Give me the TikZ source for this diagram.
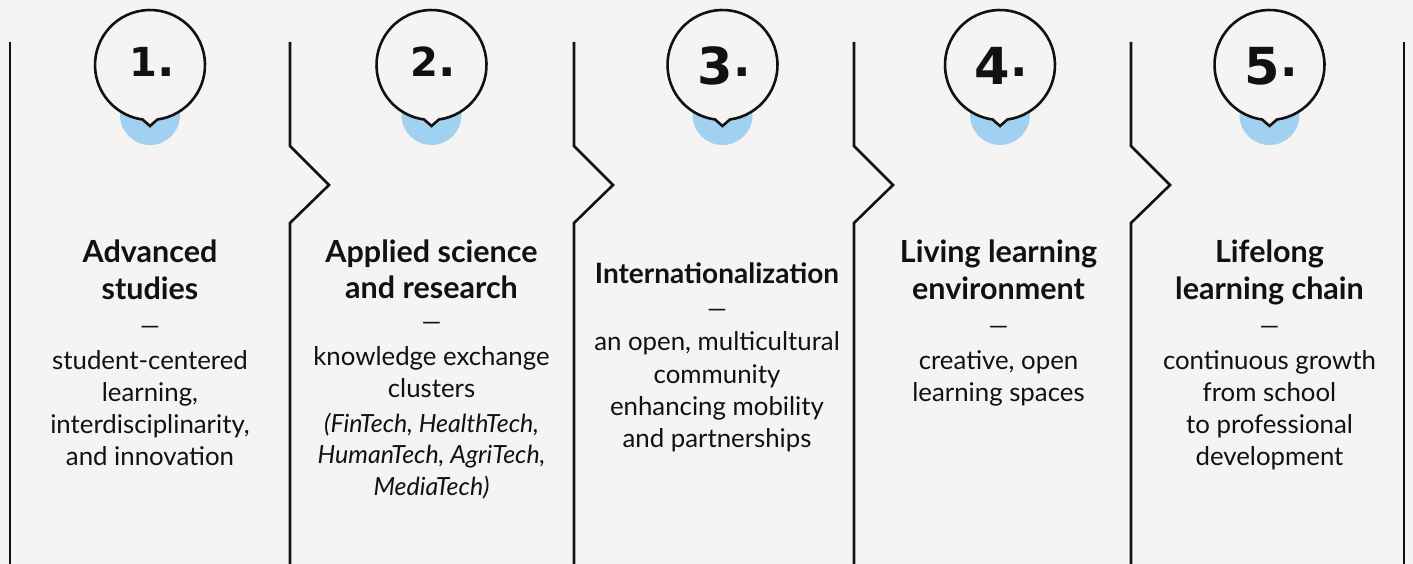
\documentclass[tikz,border=0pt]{standalone}
\usepackage{fontspec}
\setmainfont{Lato}
\newfontfamily\numfont{DejaVu Sans}
\definecolor{bg}{HTML}{F5F4F2}
\definecolor{bub}{HTML}{A1D1F1}
\definecolor{ink}{HTML}{111111}
\newcommand{\ttlfont}{\fontsize{30.5}{38}\selectfont\bfseries}
\newcommand{\ttlcfont}{\fontsize{28}{38}\selectfont\bfseries}
\newcommand{\bdyfont}{\fontsize{25.8}{32}\selectfont}
\newcommand{\itfont}{\fontsize{25}{32}\selectfont\itshape}
\newcommand{\dashfont}{\fontsize{25}{32}\selectfont}
\newcommand{\numsmall}[1]{\numfont\fontsize{40}{40}\selectfont\bfseries #1\fontsize{46}{46}\selectfont.}
\newcommand{\numbig}[1]{\numfont\fontsize{51}{51}\selectfont\bfseries #1\fontsize{46}{46}\selectfont\raisebox{8pt}{.}}
\newcommand{\putlines}[4]{%
  \foreach \yy/\ltxt [count=\ii] in {#4} {\node[#3] (#2\ii) at (#1,-\yy) {\ltxt};}}
\begin{document}
\begin{tikzpicture}[x=1pt,y=1pt,
  rule/.style={line width=2.6pt, draw=ink, line join=miter},
  bubble/.style={line width=2.6pt, draw=ink, fill=bg, line join=miter},
  blob/.style={fill=bub},
  ttlnode/.style={anchor=base, inner sep=0pt, font=\ttlfont, text=ink},
  ttlcnode/.style={anchor=base, inner sep=0pt, font=\ttlcfont, text=ink},
  bdynode/.style={anchor=base, inner sep=0pt, font=\bdyfont, text=ink},
  dashnode/.style={anchor=base, inner sep=0pt, font=\dashfont, text=ink},
  itnode/.style={anchor=base, inner sep=0pt, font=\itfont, text=ink},
  numnode/.style={anchor=base, inner sep=0pt, text=ink}]
\fill[bg] (0,0) rectangle (1413,-564);
\useasboundingbox (0,0) rectangle (1413,-564);
% outer lines
\draw[rule] (10,-42) -- (10,-566);
\draw[rule] (1404,-42) -- (1404,-566);
% chevron dividers
\foreach \x in {290,574,854,1131}
  \draw[rule] (\x,-42) -- (\x,-146) -- (\x+39,-185) -- (\x,-223) -- (\x,-566);
% bubbles
\foreach \cx in {150,431.5,722.5,1000,1269.5} {
  \fill[blob] (\cx,-115) circle (30);
  \draw[bubble] (\cx,-65) ++(277.8:55) arc[start angle=277.8,end angle=622.2,radius=55] -- (\cx,-126) -- cycle;
}
\node[numnode] (n1) at (152,-77) {\numsmall{1}};
\node[numnode] (n2) at (433,-77) {\numsmall{2}};
\node[numnode] (n3) at (724,-85) {\numbig{3}};
\node[numnode] (n4) at (1001,-85) {\numbig{4}};
\node[numnode] (n5) at (1271,-85) {\numbig{5}};
% column 1
\putlines{150}{ta}{ttlnode}{262/Advanced, 299.5/studies}
\node[dashnode] (da) at (150,-334) {—};
\putlines{150}{ba}{bdynode}{369.5/student-centered, 401/{learning,}, 433/{interdisciplinarity,}, 465/and innovation}
% column 2
\putlines{431.5}{tb}{ttlnode}{262/Applied science, 298.5/and research}
\node[dashnode] (db) at (431.5,-330) {—};
\putlines{431.5}{bb}{bdynode}{365/knowledge exchange, 397/clusters}
\putlines{431.5}{ib}{itnode}{432/{(FinTech, HealthTech,}, 463.5/{HumanTech, AgriTech,}, 495/{MediaTech)}}
% column 3
\putlines{717}{tc}{ttlcnode}{283/Internationalization}
\node[dashnode] (dc) at (717,-317) {—};
\putlines{717}{bc}{bdynode}{350/{an open, multicultural}, 383/community, 415/enhancing mobility, 447/and partnerships}
% column 4
\putlines{998.5}{td}{ttlnode}{262/Living learning, 299.5/environment}
\node[dashnode] (dd) at (998.5,-334) {—};
\putlines{998.5}{bd}{bdynode}{369.5/{creative, open}, 401.5/learning spaces}
% column 5
\putlines{1269.5}{te}{ttlnode}{262/Lifelong, 299.5/learning chain}
\node[dashnode] (de) at (1269.5,-334) {—};
\putlines{1269.5}{be}{bdynode}{369.5/continuous growth, 401/from school, 433/to professional, 465/development}
\end{tikzpicture}
\end{document}
